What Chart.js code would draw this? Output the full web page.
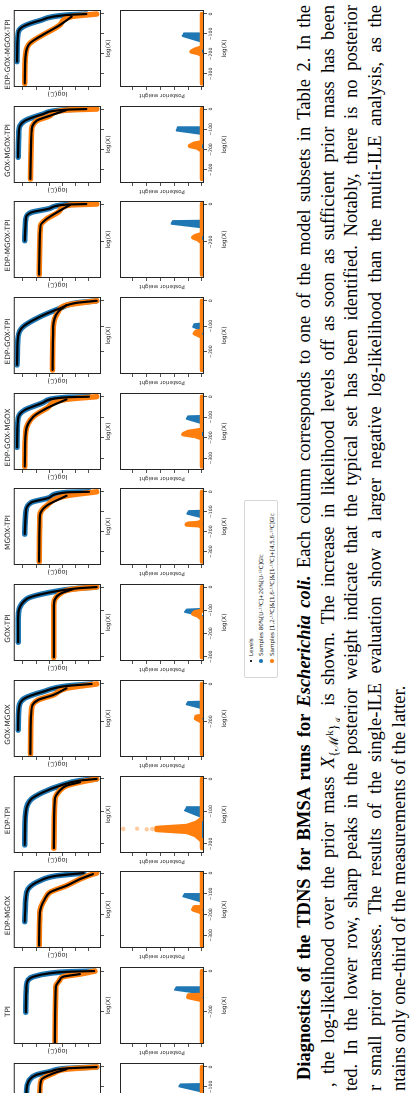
<!DOCTYPE html>
<html>
<head>
<meta charset="utf-8">
<title>TDNS diagnostics</title>
<script src="https://cdn.jsdelivr.net/npm/chart.js@4.4.1/dist/chart.umd.min.js"></script>
<style>
  html, body { margin: 0; padding: 0; background: #fff; overflow: hidden; }
  body { width: 411px; height: 1093px; position: relative; }
  /* the figure is a landscape page turned a quarter turn counter-clockwise */
  #page {
    position: absolute; left: 0; top: 0; width: 1093px; height: 411px; overflow: hidden;
    transform-origin: 0 0; transform: translate(0px, 1093px) rotate(-90deg);
  }
  #page canvas { position: absolute; }
  .legend {
    position: absolute; box-sizing: border-box; border: 1px solid #d6d6d6; border-radius: 2px;
    font-family: "DejaVu Sans", sans-serif; font-size: 5.6px; color: #222; background: #fff;
  }
  .legend .row { position: absolute; left: 0; white-space: nowrap; line-height: 7px; height: 7px; }
  .legend .mk { position: absolute; border-radius: 50%; }
  .legend .tx { position: absolute; left: 21px; top: 0; }
  .cap {
    position: absolute; font-family: "Liberation Serif", "Times New Roman", serif; font-size: 18.5px;
    line-height: 23.7px; height: 23.7px; color: #000; text-align: justify; text-align-last: justify;
    overflow: hidden; white-space: normal;
  }
  .cap.last { text-align-last: left; }
  .cap sub { font-size: 70%; line-height: 0; }
</style>
</head>
<body>
<div id="page"></div>
<script>
// ── Data ────────────────────────────────────────────────────────────────

const models = ["MGOX", "TPI", "EDP-MGOX", "EDP-TPI", "GOX-MGOX", "GOX-TPI", "MGOX-TPI",
  "EDP-GOX-MGOX", "EDP-GOX-TPI", "EDP-MGOX-TPI", "GOX-MGOX-TPI", "EDP-GOX-MGOX-TPI"];

// log(X) axis of every column
const logXMin = [-365, -360, -361, -228, -388, -318, -367, -358, -288, -390, -365, -365];
const logXMax = [20, 20, 10, 9, 21, 13, 19, 18, 15, 16, 15, 20];
const logXTicks = [
  [0, -100, -200, -300], [0, -200], [0, -100, -200, -300], [0, -100, -200],
  [0, -200], [0, -100, -200, -300], [0, -100, -200, -300], [0, -100, -200, -300],
  [0, -100, -200], [0, -200], [0, -100, -200, -300], [0, -100, -200, -300],
];

// shared y ranges (log-likelihood row, posterior weight row), ticks carry no labels
const logLRange = [-5.91, 0.68];
const logLTicks = [0, -1, -2, -3, -4, -5];
const weightRange = [-0.145, 5.94];
const weightTicks = [0, 1, 2, 3, 4, 5];

// upper row: [log(X), log(L)] along the levels, blue = 80%[U-13C], orange = mixture
const llBlue = [
  [[-240, -0.28], [-130, -0.28], [-65, -0.5], [-40, -1.0], [-23, -2.05], [-7, -3.3], [0, -5.58]],
  [[-203, -0.23], [-77, -0.28], [-44, -0.41], [-28, -0.79], [-11, -2.05], [-3, -3.6], [0, -5.4]],
  [[-234, -0.15], [-125, -0.23], [-77, -0.4], [-37, -1.29], [-13, -2.55], [0, -4.6]],
  [[-203, -0.15], [-102, -0.23], [-62, -0.65], [-41, -1.54], [-21, -2.8], [-5, -4.32], [0, -5.58]],
  [[-245, 0.35], [-121, 0.28], [-76, -0.15], [-41, -1.54], [-11, -3.3], [0, -5.2]],
  [[-237, 0.35], [-137, 0.35], [-52, -0.28], [-23, -2.05], [-6, -4.07], [0, -5.58]],
  [[-212, -0.15], [-103, -0.23], [-53, -0.65], [-28, -2.05], [-3, -3.3], [0, -5.0]],
  [[-247, 0.43], [-105, 0.35], [-65, -0.15], [-29, -1.54], [-3, -3.3], [0, -5.0]],
  [[-252, 0.43], [-141, 0.35], [-102, -0.02], [-63, -1.29], [-30, -2.8], [-8, -4.07], [0, -5.58]],
  [[-193, -0.15], [-79, -0.23], [-44, -0.65], [-23, -2.05], [-3, -3.3], [0, -4.8]],
  [[-238, 0.35], [-115, 0.3], [-58, -0.15], [-25, -1.54], [-3, -3.3], [0, -4.8]],
  [[-238, 0.43], [-96, 0.35], [-63, -0.02], [-33, -1.29], [-5, -3.31], [0, -4.8]],
];
const llOrange = [
  [[-340, -1.29], [-131, -1.29], [-65, -1.4], [-32, -2.3], [-11, -3.3], [0, -5.58]],
  [[-353, -2.43], [-77, -2.5], [-44, -2.8], [-28, -3.05], [-15, -4.32], [0, -5.45]],
  [[-349, -1.24], [-189, -1.29], [-125, -1.67], [-93, -2.05], [-61, -3.3], [-29, -4.32], [-5, -5.3], [0, -5.58]],
  [[-213, -2.35], [-62, -2.43], [-36, -2.8], [-21, -3.3], [-10, -4.32], [0, -5.58]],
  [[-372, -0.58], [-138, -0.66], [-85, -1.16], [-59, -2.3], [-23, -3.3], [0, -5.58]],
  [[-302, -2.35], [-80, -2.35], [-30, -2.8], [-9, -3.8], [0, -5.58]],
  [[-350, -1.24], [-120, -1.29], [-70, -1.8], [-20, -3.3], [0, -5.58]],
  [[-341, -0.15], [-171, -0.23], [-98, -0.8], [-57, -1.8], [-13, -3.3], [0, -5.58]],
  [[-272, -2.25], [-102, -2.3], [-43, -2.68], [-17, -3.3], [0, -5.58]],
  [[-372, -1.24], [-114, -1.34], [-79, -1.8], [-35, -2.8], [-5, -3.56], [0, -5.58]],
  [[-345, -0.58], [-115, -0.66], [-58, -1.04], [-33, -2.05], [-5, -3.3], [0, -5.58]],
  [[-347, -0.15], [-197, -0.23], [-147, -0.53], [-113, -1.29], [-55, -2.8], [-13, -3.69], [0, -5.58]],
];

// lower row: [log(X), posterior weight]
const wBlue = [
  [[-240, 0], [-123, 0], [-97, 1.64], [-87, 1.55], [-85, 0], [0, 0]],
  [[-203, 0], [-110, 0], [-92, 1.96], [-82, 1.85], [-80, 0], [0, 0]],
  [[-234, 0], [-138, 0], [-112, 1.35], [-103, 1.25], [-101, 0], [0, 0]],
  [[-203, 0], [-188, 0], [-184, 0.2], [-180, 0], [-118, 0], [-97, 1.23], [-89, 1.1], [-87, 0], [0, 0]],
  [[-245, 0], [-129, 0], [-108, 1.1], [-96, 1.0], [-94, 0], [0, 0]],
  [[-237, 0], [-123, 0], [-107, 1.23], [-97, 1.1], [-94, 0], [0, 0]],
  [[-212, 0], [-128, 0], [-110, 1.06], [-97, 0.95], [-95, 0], [0, 0]],
  [[-247, 0], [-130, 0], [-108, 1.1], [-96, 1.0], [-94, 0], [0, 0]],
  [[-252, 0], [-115, 0], [-103, 0.63], [-92, 0.55], [-89, 0], [0, 0]],
  [[-193, 0], [-123, 0], [-104, 2.2], [-90, 2.1], [-88, 0], [0, 0]],
  [[-238, 0], [-123, 0], [-106, 1.83], [-92, 1.75], [-90, 0], [0, 0]],
  [[-238, 0], [-139, 0], [-110, 1.4], [-99, 1.3], [-97, 0], [0, 0]],
];
const wOrange = [
  [[-340, 0], [0, 0]],
  [[-353, 0], [-143, 0], [-128, 0.99], [-120, 0.95], [-118, 0], [0, 0]],
  [[-349, 0], [-189, 0], [-175, 0.63], [-167, 0.55], [-165, 0], [0, 0]],
  [[-213, 0], [-190, 0], [-172, 0.5], [-163, 1.1], [-157, 3.3], [-151, 3.3], [-145, 1.1], [-135, 0.4], [-122, 0], [0, 0]],
  [[-372, 0], [-200, 0], [-183, 0.43], [-174, 0.4], [-170, 0], [0, 0]],
  [[-302, 0], [-137, 0], [-122, 0.3], [-115, 0.63], [-108, 0.5], [-102, 0], [0, 0]],
  [[-350, 0], [-178, 0], [-168, 0.2], [-164, 1.11], [-160, 1.0], [-156, 0.2], [-153, 0], [0, 0]],
  [[-341, 0], [-203, 0], [-192, 0.5], [-183, 1.35], [-172, 1.0], [-165, 0.3], [-162, 0], [0, 0]],
  [[-272, 0], [-141, 0], [-128, 0.51], [-121, 0.4], [-118, 0], [0, 0]],
  [[-372, 0], [-202, 0], [-185, 0.3], [-176, 0.63], [-168, 0.45], [-158, 0], [0, 0]],
  [[-345, 0], [-205, 0], [-190, 0.35], [-182, 0.87], [-172, 0.6], [-164, 0], [0, 0]],
  [[-347, 0], [-205, 0], [-195, 0.3], [-188, 0.75], [-178, 0.5], [-167, 0], [0, 0]],
];
// the few stray heavy samples above the EDP-TPI orange peak
const wOrangeStray = { 3: [[-154, 5.7], [-153, 4.7], [-155, 4.0], [-154, 3.6]] };

const legendLabels = ["Levels", "Samples 80%[U-¹³C]+20%[U-¹²C]Glc",
  "Samples [1,2-¹³C]&[1,6-¹³C]&[1-¹³C]+[4,5,6-¹³C]Glc"];

// ── Styling ─────────────────────────────────────────────────────────────

const BLUE = "#1f77b4";
const ORANGE = "#ff7f0e";
const AX = "#262626";
const FONT = "'DejaVu Sans', sans-serif";

Chart.defaults.font.family = FONT;
Chart.defaults.color = AX;

const page = document.getElementById("page");

const framePlugin = {
  id: "frame",
  afterDraw(chart) {
    const { ctx, chartArea: a } = chart;
    ctx.save();
    ctx.strokeStyle = AX;
    ctx.lineWidth = 1;
    ctx.strokeRect(a.left + 0.5, a.top + 0.5, a.right - a.left - 1, a.bottom - a.top - 1);
    ctx.restore();
  },
};

function addCanvas(left, top, w, h) {
  const cv = document.createElement("canvas");
  cv.width = w;
  cv.height = h;
  cv.style.left = left + "px";
  cv.style.top = top + "px";
  cv.style.width = w + "px";
  cv.style.height = h + "px";
  page.appendChild(cv);
  return cv;
}

function gridOpts() {
  return { drawOnChartArea: false, tickLength: 3, color: AX, lineWidth: 0.8 };
}

const fixTicks = (values) => (s) => { s.ticks = values.map((v) => ({ value: v })); };
const minus = (v) => String(v).replace("-", "\u2212");

// ── Upper row: log-likelihood over log prior mass ───────────────────────

function upperChart(k, left) {
  const cv = addCanvas(left - 12, 0, 101, 112);
  const line = { pointRadius: 0, fill: false, cubicInterpolationMode: "monotone",
    borderCapStyle: "round", borderJoinStyle: "round" };
  new Chart(cv, {
    type: "line",
    data: {
      datasets: [
        { ...line, data: llBlue[k], borderColor: BLUE, borderWidth: 5.5, order: 2 },
        { ...line, data: llOrange[k], borderColor: ORANGE, borderWidth: 5.5, order: 1 },
        { ...line, data: llBlue[k], borderColor: "#000", borderWidth: 2.2, order: 0 },
        { ...line, data: llOrange[k].slice(0, -1), borderColor: "#000", borderWidth: 2.2, order: 0 },
      ],
    },
    options: {
      responsive: false, animation: false, events: [],
      layout: { padding: { left: 0, right: 12, top: 0, bottom: 0 } },
      plugins: {
        legend: { display: false }, tooltip: { enabled: false },
        title: { display: true, text: models[k], color: AX,
          font: { family: FONT, size: 7.3, weight: "normal" }, padding: { top: 4, bottom: 1 } },
      },
      scales: {
        x: {
          type: "linear", min: logXMin[k], max: logXMax[k],
          afterBuildTicks: fixTicks(logXTicks[k]),
          afterFit: (s) => { s.height = 11; },
          ticks: { display: false },
          grid: gridOpts(), border: { display: false },
          title: { display: true, text: "log(X)", font: { size: 6 }, padding: 0 },
        },
        y: {
          min: logLRange[0], max: logLRange[1],
          afterBuildTicks: fixTicks(logLTicks),
          afterFit: (s) => { s.width = 12; },
          ticks: { display: false },
          grid: gridOpts(), border: { display: false },
          title: { display: true, text: "log(ℒ)", font: { size: 6.5 }, padding: { top: 1.1, bottom: 0 } },
        },
      },
    },
    plugins: [framePlugin],
  });
}

// ── Lower row: posterior weight ─────────────────────────────────────────

function lowerChart(k, left) {
  const cv = addCanvas(left - 12, 112, 101, 120);
  const area = { pointRadius: 0, fill: "origin", tension: 0,
    borderCapStyle: "round", borderJoinStyle: "round" };
  const datasets = [
    { ...area, data: wBlue[k], borderColor: BLUE, backgroundColor: BLUE, borderWidth: 2, order: 2 },
    { ...area, data: wOrange[k], borderColor: ORANGE, backgroundColor: ORANGE, borderWidth: 4.5, order: 1 },
  ];
  if (wOrangeStray[k]) {
    datasets.push({ data: wOrangeStray[k], showLine: false, pointRadius: 2.2, borderWidth: 0,
      backgroundColor: "rgba(255,127,14,0.4)", order: 0 });
  }
  new Chart(cv, {
    type: "line",
    data: { datasets },
    options: {
      responsive: false, animation: false, events: [],
      layout: { padding: { left: 0, right: 12, top: 8, bottom: 0 } },
      plugins: { legend: { display: false }, tooltip: { enabled: false } },
      scales: {
        x: {
          type: "linear", min: logXMin[k], max: logXMax[k],
          afterBuildTicks: fixTicks(logXTicks[k]),
          afterFit: (s) => { s.height = 28; },
          ticks: { maxRotation: 0, autoSkip: false, padding: 1.5, font: { size: 4.6 }, callback: minus },
          grid: gridOpts(), border: { display: false },
          title: { display: true, text: "log(X)", font: { size: 6 }, padding: { top: 0, bottom: 4 } },
        },
        y: {
          min: weightRange[0], max: weightRange[1],
          afterBuildTicks: fixTicks(weightTicks),
          afterFit: (s) => { s.width = 12; },
          ticks: { display: false },
          grid: gridOpts(), border: { display: false },
          title: { display: true, text: "Posterior weight", font: { size: 5.6 }, padding: { top: 0.6, bottom: 0 } },
        },
      },
    },
    plugins: [framePlugin],
  });
}

// ── Build columns ───────────────────────────────────────────────────────

const LAST_LEFT = 1006;
const PITCH = 95.7;
models.forEach((m, k) => {
  const left = Math.round(LAST_LEFT - (models.length - 1 - k) * PITCH);
  upperChart(k, left);
  lowerChart(k, left);
});

// ── Legend ──────────────────────────────────────────────────────────────

const legend = document.createElement("div");
legend.className = "legend";
Object.assign(legend.style, { left: "415px", top: "244px", width: "178px", height: "34px" });
const markers = [
  { c: "#000", d: 1.6 },
  { c: BLUE, d: 3.6 },
  { c: ORANGE, d: 3.6 },
];
const rowCenters = [6, 16, 27];
legendLabels.forEach((label, i) => {
  const row = document.createElement("div");
  row.className = "row";
  row.style.top = (rowCenters[i] - 3.5) + "px";
  const mk = document.createElement("span");
  mk.className = "mk";
  Object.assign(mk.style, { background: markers[i].c, width: markers[i].d + "px", height: markers[i].d + "px",
    left: (16 - markers[i].d / 2) + "px", top: (3.5 - markers[i].d / 2) + "px" });
  const tx = document.createElement("span");
  tx.className = "tx";
  tx.textContent = label;
  row.appendChild(mk);
  row.appendChild(tx);
  legend.appendChild(row);
});
page.appendChild(legend);

// ── Caption ─────────────────────────────────────────────────────────────

const captionLines = [
  { start: 13, html: "<b>Diagnostics of the TDNS for BMSA runs for <i>Escherichia coli.</i></b> Each column corresponds to one of the model subsets in Table 2. In the" },
  { start: 6, html: ", the log-likelihood over the prior mass <i>X</i><sub>{ℳ<sup>k</sup>}<sub>ℐ<sub>k</sub></sub></sub> is shown. The increase in likelihood levels off as soon as sufficient prior mass has been" },
  { start: 2, html: "ted. In the lower row, sharp peaks in the posterior weight indicate that the typical set has been identified. Notably, there is no posterior" },
  { start: 2, html: "r small prior masses. The results of the single-ILE evaluation show a larger negative log-likelihood than the multi-ILE analysis, as the" },
  { start: 2, html: "ntains only one-third of the measurements of the latter.", last: true },
];
const CAP_TOP = 293;
const CAP_LH = 23.7;
const CAP_END = 1088;
captionLines.forEach((ln, i) => {
  const d = document.createElement("div");
  d.className = "cap" + (ln.last ? " last" : "");
  d.style.left = ln.start + "px";
  d.style.top = (CAP_TOP + i * CAP_LH) + "px";
  d.style.width = (CAP_END - ln.start) + "px";
  d.innerHTML = ln.html;
  page.appendChild(d);
});
</script>
</body>
</html>
